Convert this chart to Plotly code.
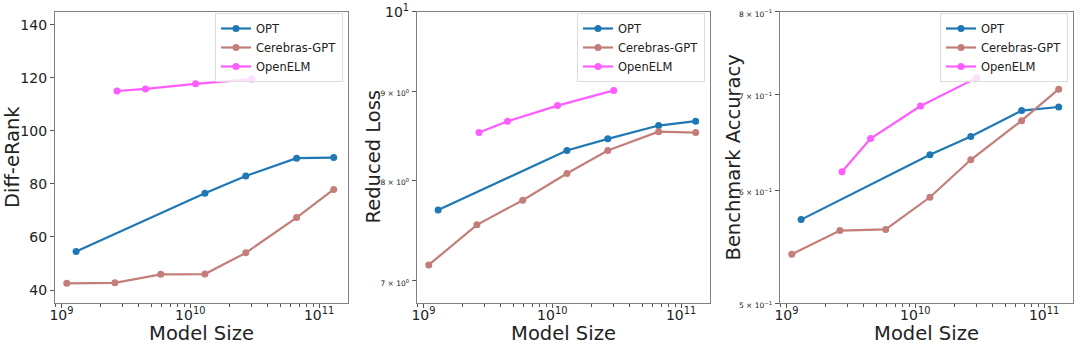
import plotly.graph_objects as go

# ---------------- data ----------------
opt_size = [1.3e9, 1.3e10, 2.7e10, 6.7e10, 1.3e11]
cer_size = [1.1e9, 2.6e9, 5.9e9, 1.3e10, 2.7e10, 6.7e10, 1.3e11]
elm_size = [2.7e9, 4.5e9, 1.1e10, 3.0e10]

opt_erank = [54.5, 76.5, 83.0, 89.7, 89.9]
cer_erank = [42.5, 42.7, 45.9, 46.0, 54.0, 67.3, 77.9]
elm_erank = [115.0, 115.8, 117.7, 119.5]

opt_loss = [7.69, 8.32, 8.45, 8.60, 8.65]
cer_loss = [7.15, 7.54, 7.79, 8.07, 8.32, 8.53, 8.52]
elm_loss = [8.52, 8.65, 8.83, 9.01]

opt_acc = [0.572, 0.635, 0.654, 0.682, 0.686]
cer_acc = [0.541, 0.562, 0.563, 0.593, 0.630, 0.671, 0.706]
elm_acc = [0.618, 0.652, 0.687, 0.719]

series_names = ["OPT", "Cerebras-GPT", "OpenELM"]
colors = ["#1f77b4", "#c47e7a", "#ff5cff"]
y_titles = ["Diff-eRank", "Reduced Loss", "Benchmark Accuracy"]

x_major = [1e9, 1e10, 1e11]
x_major_text = ["10<sup>9</sup>", "10<sup>10</sup>", "10<sup>11</sup>"]
x_minor = [m * 10 ** e for e in (8, 9, 10, 11) for m in range(2, 10)]

y1_ticks = [40, 60, 80, 100, 120, 140]
y2_ticks = [7, 8, 9, 10]
y2_text = ["<span style='font-size:7.5px'>7 × 10<sup>0</sup></span>",
           "<span style='font-size:7.5px'>8 × 10<sup>0</sup></span>",
           "<span style='font-size:7.5px'>9 × 10<sup>0</sup></span>",
           "10<sup>1</sup>"]
y3_ticks = [0.5, 0.6, 0.7, 0.8]
y3_text = ["<span style='font-size:7.5px'>%d × 10<sup>−1</sup></span>" % v for v in (5, 6, 7, 8)]

FONT = "DejaVu Sans"

fig = go.Figure()

panels = [
    (opt_size, cer_size, elm_size, opt_erank, cer_erank, elm_erank),
    (opt_size, cer_size, elm_size, opt_loss, cer_loss, elm_loss),
    (opt_size, cer_size, elm_size, opt_acc, cer_acc, elm_acc),
]

for i, p in enumerate(panels):
    xs = p[:3]
    ys = p[3:]
    xa = "x" if i == 0 else "x%d" % (i + 1)
    ya = "y" if i == 0 else "y%d" % (i + 1)
    lg = "legend" if i == 0 else "legend%d" % (i + 1)
    for k in range(3):
        fig.add_trace(go.Scatter(
            x=xs[k], y=ys[k], name=series_names[k], mode="lines+markers",
            line=dict(color=colors[k], width=2.2),
            marker=dict(color=colors[k], size=7),
            xaxis=xa, yaxis=ya, legend=lg,
        ))

x_domains = [[55 / 1080, 348 / 1080], [417 / 1080, 710 / 1080], [780 / 1080, 1073 / 1080]]
y_domain = [1 - 303 / 345, 1 - 11.7 / 345]

axis_common = dict(
    showline=True, linecolor="#808080", linewidth=1.2, mirror=True,
    ticks="outside", ticklen=4, tickcolor="#555", showgrid=False, zeroline=False,
    automargin=False,
)

layout = dict(
    width=1080, height=345, margin=dict(l=0, r=0, t=0, b=0, autoexpand=False),
    paper_bgcolor="white", plot_bgcolor="white",
    font=dict(family=FONT, color="#222"),
)

for i in range(3):
    xk = "xaxis" if i == 0 else "xaxis%d" % (i + 1)
    anchor_x = "y" if i == 0 else "y%d" % (i + 1)
    layout[xk] = dict(
        axis_common, type="log", domain=x_domains[i], anchor=anchor_x,
        range=[8.95, 11.225], tickvals=x_major, ticktext=x_major_text,
        tickfont=dict(size=14), ticklabelstandoff=-5,
        title=dict(text="Model Size", font=dict(size=19.5), standoff=3),
        minor=dict(ticks="outside", ticklen=2.5, tickcolor="#555", tickvals=x_minor),
    )

layout["yaxis"] = dict(axis_common, domain=y_domain, anchor="x", range=[35.1, 144.9],
                       tickvals=y1_ticks, tickfont=dict(size=14))
layout["yaxis2"] = dict(axis_common, type="log", domain=y_domain, anchor="x2",
                        range=[0.8324, 1.0], tickvals=y2_ticks, ticktext=y2_text,
                        tickfont=dict(size=14))
layout["yaxis3"] = dict(axis_common, type="log", domain=y_domain, anchor="x3",
                        range=[-0.30103, -0.09691], tickvals=y3_ticks, ticktext=y3_text,
                        tickfont=dict(size=14))

# y-axis titles placed as rotated annotations for precise positioning
title_x = [12.5, 373, 733]
layout["annotations"] = [
    dict(text=t, x=tx / 1080, y=1 - 157.5 / 345, xref="paper", yref="paper",
         textangle=-90, showarrow=False, font=dict(size=19.5, family=FONT, color="#222"),
         xanchor="center", yanchor="middle")
    for t, tx in zip(y_titles, title_x)
]

legend_common = dict(
    bgcolor="rgba(255,255,255,0.8)", bordercolor="#dddddd", borderwidth=1,
    font=dict(size=11.5, family=FONT), xanchor="right", yanchor="top",
    tracegroupgap=0, itemwidth=30,
)
legend_pos = [(343, 13), (705, 13), (1068, 13)]
for i, (lx, ly) in enumerate(legend_pos):
    key = "legend" if i == 0 else "legend%d" % (i + 1)
    layout[key] = dict(legend_common, x=lx / 1080, y=1 - ly / 345)

fig.update_layout(**layout)
fig.write_html("out.html")
